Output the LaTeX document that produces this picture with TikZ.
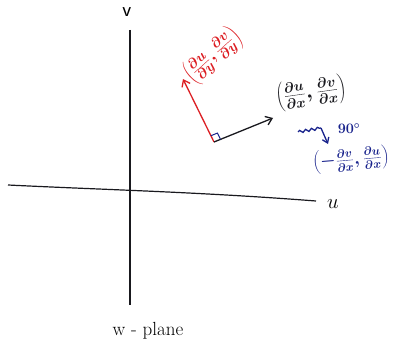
\documentclass[tikz,border=0pt]{standalone}
\usetikzlibrary{arrows.meta,decorations.pathmorphing,calc}
\definecolor{penred}{RGB}{220,30,35}
\definecolor{penblue}{RGB}{25,35,140}
\definecolor{penblack}{RGB}{25,25,30}
\newcommand{\fsz}[1]{\fontsize{#1}{#1}\selectfont}
\begin{document}
\begin{tikzpicture}[x=1pt,y=-1pt,
  axis/.style={draw=penblack,line width=1.2pt},
  vec/.style={line width=1.3pt,-{Straight Barb[length=6pt,width=9pt]}},
  lbl/.style={inner sep=1pt}]
\useasboundingbox (0,0) rectangle (393,353);
% axes
\coordinate (vtop) at (130,30);
\coordinate (vbot) at (130,305);
\coordinate (uleft) at (8,185);
\coordinate (uright) at (316,201);
\draw[axis] (vtop) -- (vbot);
\draw[axis] (uleft) .. controls (110,190) and (200,192) .. (uright);
\node[lbl,font=\fsz{22}] (vlab) at (127,12) {$\mathsf{v}$};
\node[lbl,font=\fsz{20}] (ulab) at (333,204) {$u$};
\node[lbl,font=\fsz{19}] (wlab) at (148,331) {w - plane};
% vectors
\coordinate (O) at (214,142);
\coordinate (R) at (183,79);
\coordinate (B) at (273,118);
\draw[vec,penred] (O) -- (R);
\draw[vec,penblack] (O) -- (B);
% right angle marker
\coordinate (m1) at ($(O)!7pt!(R)$);
\coordinate (m2) at ($(O)!7pt!(B)$);
\coordinate (m3) at ($(m1)+(m2)-(O)$);
\draw[penblue,line width=1pt] (m1) -- (m3) -- (m2);
% labels
\node[lbl,penred,rotate=42,font=\fsz{19}\boldmath] (rlab) at (213,56) {$\left(\frac{\partial u}{\partial y},\frac{\partial v}{\partial y}\right)$};
\node[lbl,penblack,rotate=8,font=\fsz{20}\boldmath] (blab) at (311,93) {$\left(\frac{\partial u}{\partial x},\frac{\partial v}{\partial x}\right)$};
\coordinate (w1) at (298,132);
\coordinate (w2) at (321,128);
\coordinate (a2) at (328,144);
\draw[penblue,line width=1.3pt,decorate,decoration={snake,amplitude=1.3pt,segment length=6pt}] (w1) -- (w2);
\draw[penblue,line width=1.3pt,-{Straight Barb[length=5pt,width=7pt]}] (w2) -- (a2);
\node[lbl,penblue,font=\fsz{14}\boldmath] (deg) at (349,129) {$90^\circ$};
\node[lbl,penblue,rotate=5,font=\fsz{17}\boldmath] (glab) at (351,160) {$\left(-\frac{\partial v}{\partial x},\frac{\partial u}{\partial x}\right)$};
\end{tikzpicture}
\end{document}
